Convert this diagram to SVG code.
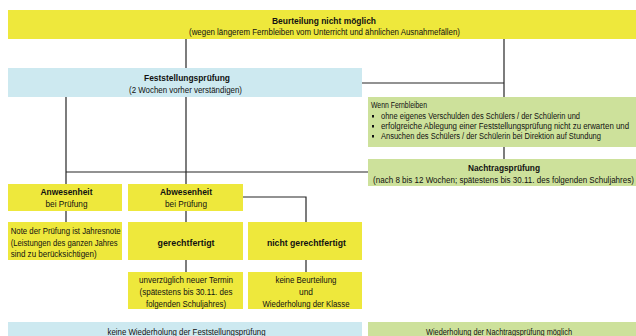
<svg xmlns="http://www.w3.org/2000/svg" width="636" height="336" viewBox="0 0 636 336">
<style>
text{font-family:"Liberation Sans",Arial,sans-serif;font-size:9.5px;fill:#111}
.b{font-weight:bold}
.c{text-anchor:middle}
.y{fill:#EEE83C}
.bl{fill:#CDE9F0}
.g{fill:#CDE19B}
.ln{fill:none;stroke:#262626;stroke-width:1.2}
</style>
<rect width="636" height="336" fill="#fff"/>
<g id="connectors" class="ln">
<path class="ln" d="M186,39V68"/>
<path class="ln" d="M504,39V97"/>
<path class="ln" d="M362,83H504"/>
<path class="ln" d="M504,147V159"/>
<path class="ln" d="M66,97V184"/>
<path class="ln" d="M186,97V184"/>
<path class="ln" d="M66,172H368"/>
<path class="ln" d="M66,211V222"/>
<path class="ln" d="M186,211V222"/>
<path class="ln" d="M243,197H306V222"/>
<path class="ln" d="M186,260V272"/>
<path class="ln" d="M306,260V272"/>
</g>
<g id="beurteilung">
<rect class="y" x="8" y="10" width="628" height="29"/>
<text class="b c" x="324" y="23.5" textLength="104" lengthAdjust="spacingAndGlyphs">Beurteilung nicht möglich</text>
<text class="c" x="324.5" y="34.5" textLength="271" lengthAdjust="spacingAndGlyphs">(wegen längerem Fernbleiben vom Unterricht und ähnlichen Ausnahmefällen)</text>
</g>
<g id="feststellung">
<rect class="bl" x="8" y="68" width="354" height="29"/>
<text class="b c" x="187" y="81" textLength="86" lengthAdjust="spacingAndGlyphs">Feststellungsprüfung</text>
<text class="c" x="185.5" y="93" textLength="113" lengthAdjust="spacingAndGlyphs">(2 Wochen vorher verständigen)</text>
</g>
<g id="wenn">
<rect class="g" x="368" y="97" width="268" height="50"/>
<text x="371" y="108" textLength="56" lengthAdjust="spacingAndGlyphs">Wenn Fernbleiben</text>
<rect x="372" y="115" width="2" height="2.5" fill="#111"/>
<rect x="372" y="125" width="2" height="2.5" fill="#111"/>
<rect x="372" y="135" width="2" height="2.5" fill="#111"/>
<text transform="translate(381,118.5) scale(0.8,1)" textLength="248.75" lengthAdjust="spacingAndGlyphs">ohne eigenes Verschulden des Schülers / der Schülerin und</text>
<text transform="translate(381,128.5) scale(0.78,1)" textLength="318" lengthAdjust="spacingAndGlyphs">erfolgreiche Ablegung einer Feststellungsprüfung nicht zu erwarten und</text>
<text transform="translate(381,138.5) scale(0.78,1)" textLength="282" lengthAdjust="spacingAndGlyphs">Ansuchen des Schülers / der Schülerin bei Direktion auf Stundung</text>
</g>
<g id="nachtrag">
<rect class="g" x="368" y="159" width="268" height="27"/>
<text class="b c" x="504" y="170.5" textLength="72" lengthAdjust="spacingAndGlyphs">Nachtragsprüfung</text>
<text class="c" transform="translate(503.5,182.5) scale(0.82,1)" textLength="318" lengthAdjust="spacingAndGlyphs">(nach 8 bis 12 Wochen; spätestens bis 30.11. des folgenden Schuljahres)</text>
</g>
<g id="anwesenheit">
<rect class="y" x="8" y="184" width="114" height="27"/>
<text class="b c" x="66.5" y="195" textLength="52" lengthAdjust="spacingAndGlyphs">Anwesenheit</text>
<text class="c" x="66.5" y="207" textLength="42" lengthAdjust="spacingAndGlyphs">bei Prüfung</text>
</g>
<g id="abwesenheit">
<rect class="y" x="128" y="184" width="115" height="27"/>
<text class="b c" x="186" y="195" textLength="52" lengthAdjust="spacingAndGlyphs">Abwesenheit</text>
<text class="c" x="186" y="207" textLength="42" lengthAdjust="spacingAndGlyphs">bei Prüfung</text>
</g>
<g id="note">
<rect class="y" x="8" y="222" width="114" height="38"/>
<text x="10.7" y="233.5" textLength="110" lengthAdjust="spacingAndGlyphs">Note der Prüfung ist Jahresnote</text>
<text x="10.7" y="245.5" textLength="107" lengthAdjust="spacingAndGlyphs">(Leistungen des ganzen Jahres</text>
<text x="10.7" y="256.5" textLength="86" lengthAdjust="spacingAndGlyphs">sind zu berücksichtigen)</text>
</g>
<g id="gerechtfertigt">
<rect class="y" x="128" y="222" width="115" height="38"/>
<text class="b c" x="186" y="245.5" textLength="57" lengthAdjust="spacingAndGlyphs">gerechtfertigt</text>
</g>
<g id="nicht-gerechtfertigt">
<rect class="y" x="248" y="222" width="114" height="38"/>
<text class="b c" x="306.4" y="245.5" textLength="79" lengthAdjust="spacingAndGlyphs">nicht gerechtfertigt</text>
</g>
<g id="termin">
<rect class="y" x="128" y="272" width="115" height="37"/>
<text class="c" x="186" y="282.5" textLength="94" lengthAdjust="spacingAndGlyphs">unverzüglich neuer Termin</text>
<text class="c" x="186" y="294.5" textLength="93" lengthAdjust="spacingAndGlyphs">(spätestens bis 30.11. des</text>
<text class="c" x="186" y="306.5" textLength="80" lengthAdjust="spacingAndGlyphs">folgenden Schuljahres)</text>
</g>
<g id="keine-beurteilung">
<rect class="y" x="248" y="272" width="114" height="37"/>
<text class="c" x="306" y="282.5" textLength="61" lengthAdjust="spacingAndGlyphs">keine Beurteilung</text>
<text class="c" x="306" y="294.5" textLength="14" lengthAdjust="spacingAndGlyphs">und</text>
<text class="c" x="306" y="306.5" textLength="87" lengthAdjust="spacingAndGlyphs">Wiederholung der Klasse</text>
</g>
<g id="keine-wiederholung">
<rect class="bl" x="8" y="322" width="354" height="14"/>
<text class="c" x="186.5" y="335" textLength="158" lengthAdjust="spacingAndGlyphs">keine Wiederholung der Feststellungsprüfung</text>
</g>
<g id="wiederholung-nachtrag">
<rect class="g" x="368" y="322" width="268" height="14"/>
<text class="c" x="499" y="335" textLength="146" lengthAdjust="spacingAndGlyphs">Wiederholung der Nachtragsprüfung möglich</text>
</g>
</svg>
